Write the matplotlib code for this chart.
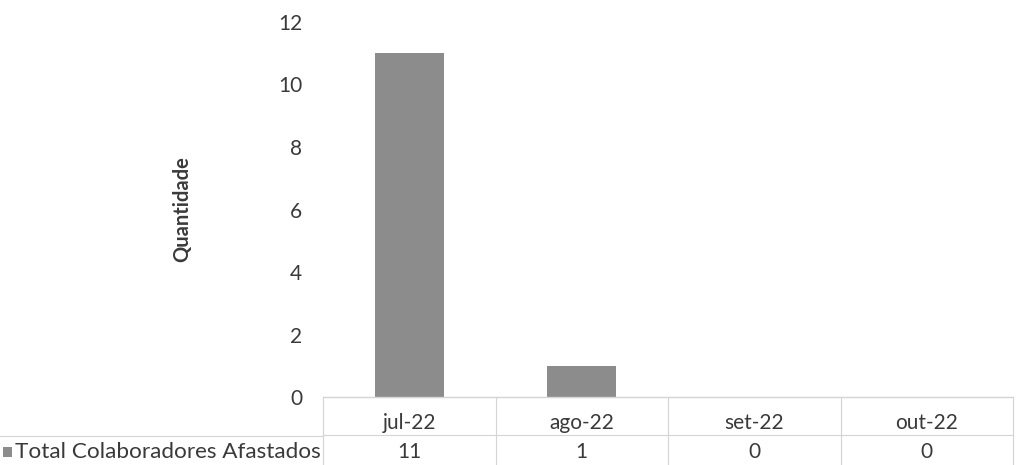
import numpy as np
import matplotlib.pyplot as plt
from matplotlib.patches import Rectangle

# Data
meses = ['jul-22', 'ago-22', 'set-22', 'out-22']
afastados = [11, 1, 0, 0]
serie_nome = 'Total Colaboradores Afastados'
yticks = [0, 2, 4, 6, 8, 10, 12]

plt.rcParams['font.family'] = ['Lato', 'DejaVu Sans']

bar_color = '#8c8c8c'
grid_color = '#d4d4d4'
text_color = '#3a3a3a'

fig = plt.figure(figsize=(10.2, 4.65), dpi=100)
fig.patch.set_facecolor('white')
ax = fig.add_axes([0.3167, 0.1462, 0.6765, 0.8065])

x = np.arange(len(meses))
ax.bar(x, afastados, width=0.4, color=bar_color, zorder=2)

ax.set_xlim(-0.5, len(meses) - 0.5)
ax.set_ylim(0, 12)
ax.set_yticks(yticks)
ax.set_yticklabels([str(v) for v in yticks], fontsize=15, color=text_color)
ax.tick_params(axis='y', length=0, pad=15)
ax.set_xticks([])
for s in ['top', 'right', 'left']:
    ax.spines[s].set_visible(False)
ax.spines['bottom'].set_color(grid_color)
ax.spines['bottom'].set_linewidth(1.0)

ax.set_ylabel('Quantidade', fontsize=14.5, color=text_color, fontweight='bold')
ax.yaxis.set_label_coords(-0.19, 0.5)

# Data table under the axis
tr = ax.get_xaxis_transform()
y_head = -0.069
y_val = -0.146
y_sep = -0.102
y_bot = -0.185

for i, (m, v) in enumerate(zip(meses, afastados)):
    ax.text(i, y_head, m, transform=tr, ha='center', va='center', fontsize=15, color=text_color)
    ax.text(i, y_val, str(v), transform=tr, ha='center', va='center', fontsize=15, color=text_color)

for xv in np.arange(-0.5, len(meses), 1.0):
    ax.plot([xv, xv], [0, y_bot], transform=tr, color=grid_color, lw=0.8, clip_on=False)
ax.plot([-0.5, len(meses) - 0.5], [y_sep, y_sep], transform=tr, color=grid_color, lw=0.8, clip_on=False)
# separator continues under the legend label
fig.add_artist(plt.Line2D([0.0, 0.3167], [0.063, 0.063], color=grid_color, lw=0.8))

# Legend key + series name
fig.add_artist(Rectangle((0.003, 0.017), 0.009, 0.022, facecolor=bar_color, edgecolor='none'))
fig.text(0.0147, 0.027, serie_nome, ha='left', va='center', fontsize=16.2, color=text_color)

fig.savefig('out.png', dpi=100)
